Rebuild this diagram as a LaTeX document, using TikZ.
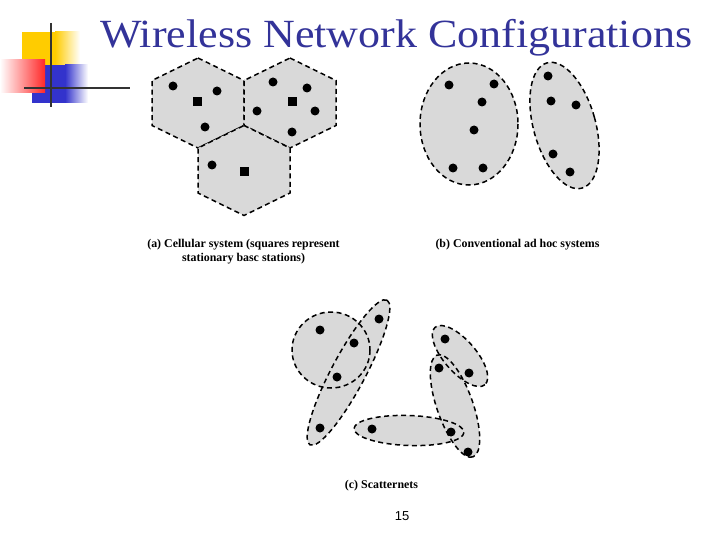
\documentclass[tikz,border=0pt]{standalone}
\usepackage{fontspec}
\setmainfont{Liberation Serif}
\setsansfont{Liberation Sans}
\usetikzlibrary{positioning}
\definecolor{titleblue}{RGB}{51,51,153}
\definecolor{cellgray}{RGB}{217,217,217}
\definecolor{logoyellow}{RGB}{255,204,0}
\definecolor{logored}{RGB}{255,40,40}
\definecolor{logoblue}{RGB}{51,51,204}

\begin{document}
\begin{tikzpicture}[x=1pt, y=-1pt,
    cell/.style={draw=black, line width=1.5pt, dash pattern=on 5pt off 3.5pt, fill=cellgray},
    outline/.style={draw=black, line width=1.5pt, dash pattern=on 5pt off 3.5pt},
    dot/.style={circle, fill=black, inner sep=0pt, minimum size=9pt},
    station/.style={rectangle, fill=black, inner sep=0pt, minimum size=9pt},
    caption/.style={font=\fontsize{11.9}{14}\selectfont\bfseries, align=center, inner sep=0pt}
]
    \useasboundingbox (0,0) rectangle (720,540);

    % Logo
    \fill[logoyellow] (22,32) rectangle (55,65);
    \shade[left color=logoyellow, right color=white] (55,32) rectangle (80,65);
    \fill[logoblue] (32,65) rectangle (65,103);
    \shade[left color=logoblue, right color=white] (65,65) rectangle (88,103);
    \shade[left color=white, right color=logored] (0,60) rectangle (45,93);
    \draw[line width=2.2pt, black!80] (51,23) -- (51,107);
    \draw[line width=2.2pt, black!80] (24,88) -- (130,88);

    % Title
    \node[anchor=base west, inner sep=0pt, text=titleblue, font=\fontsize{40}{42}\selectfont] (title) at (100,48)
        {\scalebox{1.1}[1]{Wireless Network Configurations}};

    % (a) Cellular system
    \foreach \cx/\cy in {198/103, 290/103, 244/170.5}
        \draw[cell] (\cx,\cy-45) -- (\cx+46,\cy-22.5) -- (\cx+46,\cy+22.5) -- (\cx,\cy+45)
            -- (\cx-46,\cy+22.5) -- (\cx-46,\cy-22.5) -- cycle;
    \node[dot] (a1) at (173,86) {};
    \node[dot] (a2) at (217,91) {};
    \node[station] (bs1) at (197,102) {};
    \node[dot] (a3) at (205,127) {};
    \node[dot] (a4) at (273,82) {};
    \node[dot] (a5) at (307,88) {};
    \node[station] (bs2) at (292,102) {};
    \node[dot] (a6) at (257,111) {};
    \node[dot] (a7) at (315,111) {};
    \node[dot] (a8) at (292,132) {};
    \node[dot] (a9) at (212,165) {};
    \node[station] (bs3) at (244,172) {};
    \node[caption] (capa) at (243.5,251.5) {(a) Cellular system (squares represent\\stationary basc stations)};

    % (b) Conventional ad hoc systems
    \draw[cell] (469,124) ellipse [x radius=49, y radius=61];
    \draw[cell, rotate around={15.6:(564.5,125.5)}] (564.5,125.5) ellipse [x radius=31, y radius=65];
    \node[dot] (b1) at (449,85) {};
    \node[dot] (b2) at (494,84) {};
    \node[dot] (b3) at (482,102) {};
    \node[dot] (b4) at (474,130) {};
    \node[dot] (b5) at (453,168) {};
    \node[dot] (b6) at (483,168) {};
    \node[dot] (b7) at (548,76) {};
    \node[dot] (b8) at (551,101) {};
    \node[dot] (b9) at (576,105) {};
    \node[dot] (b10) at (553,154) {};
    \node[dot] (b11) at (570,172) {};
    \node[caption] (capb) at (517.5,244.5) {(b) Conventional ad hoc systems};

    % (c) Scatternets
    \foreach \cx/\cy/\rx/\ry/\ang in {331/350/39/38/0, 348.5/372.5/82/17/62, 460/356/38/16/-49,
                                    455/406/54/18/-70.6, 409/430.5/55/15/-2}
        \fill[cellgray, rotate around={\ang:(\cx,\cy)}] (\cx,\cy) ellipse [x radius=\rx, y radius=\ry];
    \foreach \cx/\cy/\rx/\ry/\ang in {331/350/39/38/0, 348.5/372.5/82/17/62, 460/356/38/16/-49,
                                    455/406/54/18/-70.6, 409/430.5/55/15/-2}
        \draw[outline, rotate around={\ang:(\cx,\cy)}] (\cx,\cy) ellipse [x radius=\rx, y radius=\ry];
    \node[dot] (c1) at (320,330) {};
    \node[dot] (c2) at (354,343) {};
    \node[dot] (c3) at (379,319) {};
    \node[dot] (c4) at (337,377) {};
    \node[dot] (c5) at (320,428) {};
    \node[dot] (c6) at (445,339) {};
    \node[dot] (c7) at (469,373) {};
    \node[dot] (c8) at (439,368) {};
    \node[dot] (c9) at (451,432) {};
    \node[dot] (c10) at (468,452) {};
    \node[dot] (c11) at (372,429) {};
    \node[caption] (capc) at (381.5,486) {(c) Scatternets};

    % page number
    \node[font=\sffamily\fontsize{13}{15}\selectfont, inner sep=0pt] (pagenum) at (402,516) {15};
\end{tikzpicture}
\end{document}
